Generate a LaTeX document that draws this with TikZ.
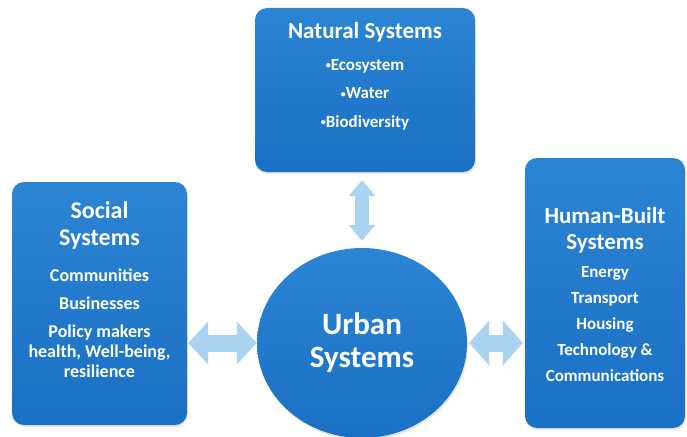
\documentclass[tikz,border=0pt]{standalone}
\usepackage{fontspec}
\setmainfont{Carlito}
\usetikzlibrary{positioning,arrows.meta,shadows,shapes.geometric}
\definecolor{boxblue}{RGB}{26,112,196}
\definecolor{boxtop}{RGB}{44,132,212}
\definecolor{arrowblue}{RGB}{170,211,242}
\newcommand{\dotitem}{\raisebox{0.15ex}{\fontsize{10}{10}\selectfont\textbullet}}

\begin{document}
\begin{tikzpicture}[x=1pt,y=-1pt,
  sysbox/.style={rectangle,rounded corners=12pt,top color=boxtop,bottom color=boxblue,
    drop shadow={opacity=0.2,shadow xshift=1pt,shadow yshift=-2pt}},
  boxtitle/.style={text=white,font=\bfseries\fontsize{23}{26}\selectfont,align=center,inner sep=0pt},
  boxitems/.style={text=white,font=\bfseries\fontsize{17}{26}\selectfont,align=center,inner sep=0pt},
  link/.style={draw=arrowblue,line width=#1}]
  \useasboundingbox (0,0) rectangle (687,436);
  % Nodes
  \node[sysbox,minimum width=220pt,minimum height=164pt] (natural) at (365,90) {};
  \node[sysbox,minimum width=175pt,minimum height=243pt] (social) at (99.5,303.5) {};
  \node[sysbox,minimum width=160pt,minimum height=270pt] (human) at (605,293) {};
  \node[ellipse,top color=boxtop,bottom color=boxblue,minimum width=210pt,minimum height=190pt,
    drop shadow={opacity=0.2,shadow xshift=1pt,shadow yshift=-2pt}] (urban) at (362,343) {};

  % Texts
  \node[boxtitle,below=14pt of natural.north] (naturaltitle) {Natural Systems};
  \node[boxitems,font=\bfseries\fontsize{17}{28.5}\selectfont,below=51pt of natural.north] (naturalitems)
    {\dotitem Ecosystem\\ \dotitem Water\\ \dotitem Biodiversity};
  \node[boxtitle,font=\bfseries\fontsize{24}{27}\selectfont,below=20pt of social.north] (socialtitle) {Social\\Systems};
  \node[boxitems,font=\bfseries\fontsize{18}{20}\selectfont,below=87pt of social.north] (socialitems)
    {Communities\\[8pt]Businesses\\[8pt]Policy makers\\health, Well-being,\\resilience};
  \node[boxtitle,below=49pt of human.north] (humantitle) {Human-Built\\Systems};
  \node[boxitems,below=108pt of human.north] (humanitems)
    {Energy\\Transport\\Housing\\Technology \&\\Communications};
  \node[boxtitle,font=\bfseries\fontsize{31}{33}\selectfont] (urbantitle) at (urban) {Urban\\Systems};

  % Edges
  \draw[link=14pt,{Triangle[width=26pt,length=16pt]}-{Triangle[width=26pt,length=16pt]},
    shorten <=8pt,shorten >=7pt] (urban.north |- natural.south) -- (urban.north);
  \draw[link=17pt,{Triangle[width=42pt,length=20pt]}-{Triangle[width=42pt,length=20pt]},
    shorten <=1pt] (social.east |- urban.west) -- (urban.west);
  \draw[link=17pt,{Triangle[width=44pt,length=20pt]}-{Triangle[width=44pt,length=20pt]},
    shorten <=2pt,shorten >=2pt] (urban.east) -- (urban.east -| human.west);
\end{tikzpicture}
\end{document}
